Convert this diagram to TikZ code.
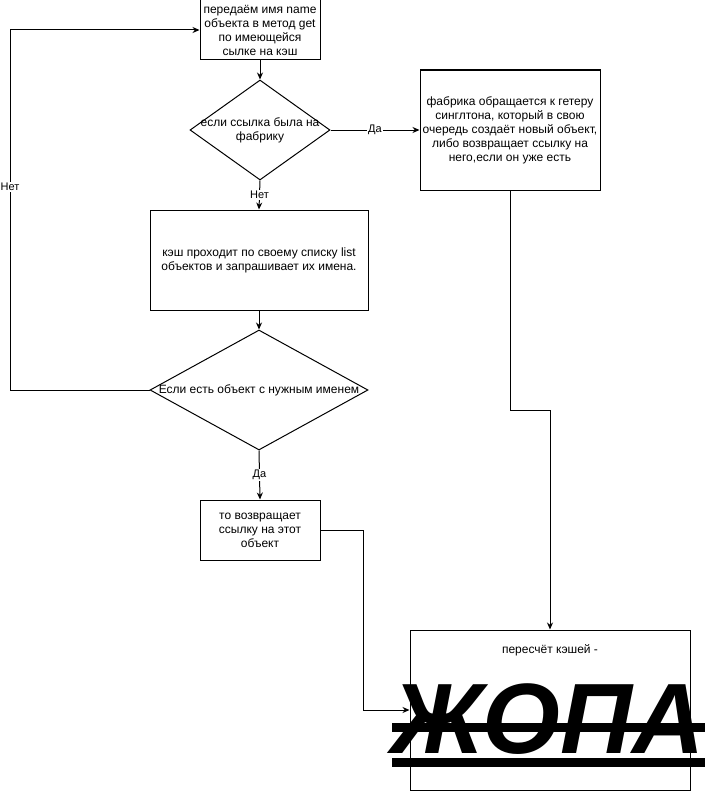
\documentclass[tikz,border=0pt]{standalone}
\usepackage{fontspec}
\setmainfont{Liberation Sans}
\usetikzlibrary{shapes.geometric,arrows.meta}
\begin{document}
\begin{tikzpicture}[x=1pt,y=-1pt,
  box/.style={draw,line width=1pt,rectangle,inner sep=0pt,font=\fontsize{12}{14}\selectfont,align=center},
  dia/.style={draw,line width=1pt,diamond,inner sep=0pt},
  txt/.style={font=\fontsize{12}{14}\selectfont,align=center,inner sep=0pt},
  arr/.style={line width=1pt,-{Stealth[length=7pt,width=6pt]}},
  lbl/.style={fill=white,inner sep=1pt,font=\fontsize{11}{13}\selectfont}]
\useasboundingbox (0,0) rectangle (707,792);
% nodes
\node[box,minimum width=120pt,minimum height=60pt] (top) at (260,30) {передаём имя name\\объекта в метод get\\по имеющейся\\сылке на кэш};
\node[dia,minimum width=140pt,minimum height=100pt] (d1) at (260,130) {};
\node[txt] (d1t) at (260,130) {если ссылка была на\\фабрику};
\node[box,minimum width=180pt,minimum height=120pt] (fab) at (510,130) {фабрика обращается к гетеру\\синглтона, который в свою\\очередь создаёт новый объект,\\либо возвращает ссылку на\\него,если он уже есть};
\node[box,minimum width=218pt,minimum height=100pt] (scan) at (259,260) {кэш проходит по своему списку list\\объектов и запрашивает их имена.};
\node[dia,minimum width=218pt,minimum height=120pt] (d2) at (259,390) {};
\node[txt] (d2t) at (259,390) {Если есть объект с нужным именем};
\node[box,minimum width=120pt,minimum height=60pt] (ret) at (260,530) {то возвращает\\ссылку на этот\\объект};
\node[draw,line width=1pt,rectangle,minimum width=280pt,minimum height=160pt,inner sep=0pt] (res) at (550,710) {};
\node[txt] (rest) at (550,650) {пересчёт кэшей -};
\node[inner sep=0pt,anchor=base,font=\fontsize{100}{100}\selectfont\bfseries\itshape] (big) at (548,753) {ЖОПА};
\fill (392,723) rectangle (705,732);
\fill (392,758) rectangle (705,767);
% coordinates
\coordinate (nl) at (10,390);
\coordinate (nt) at (10,30);
\coordinate (r1) at (363,530);
\coordinate (f1) at (510,410);
\coordinate (f2) at (550,410);
% connectors
\draw[arr] (top.south) -- (d1.north);
\draw[arr] (d1.east) -- node[lbl]{Да} (fab.west);
\draw[arr] (d1.south) -- node[lbl]{Нет} (scan.north);
\draw[arr] (scan.south) -- (d2.north);
\draw[arr] (d2.west) -- (nl) -- node[lbl,pos=0.564]{Нет} (nt) -- (top.west);
\draw[arr] (d2.south) -- node[lbl]{Да} (ret.north);
\draw[arr] (ret.east) -- (r1) |- (res.west);
\draw[arr] (fab.south) -- (f1) -- (f2) -- (res.north);
\end{tikzpicture}
\end{document}
